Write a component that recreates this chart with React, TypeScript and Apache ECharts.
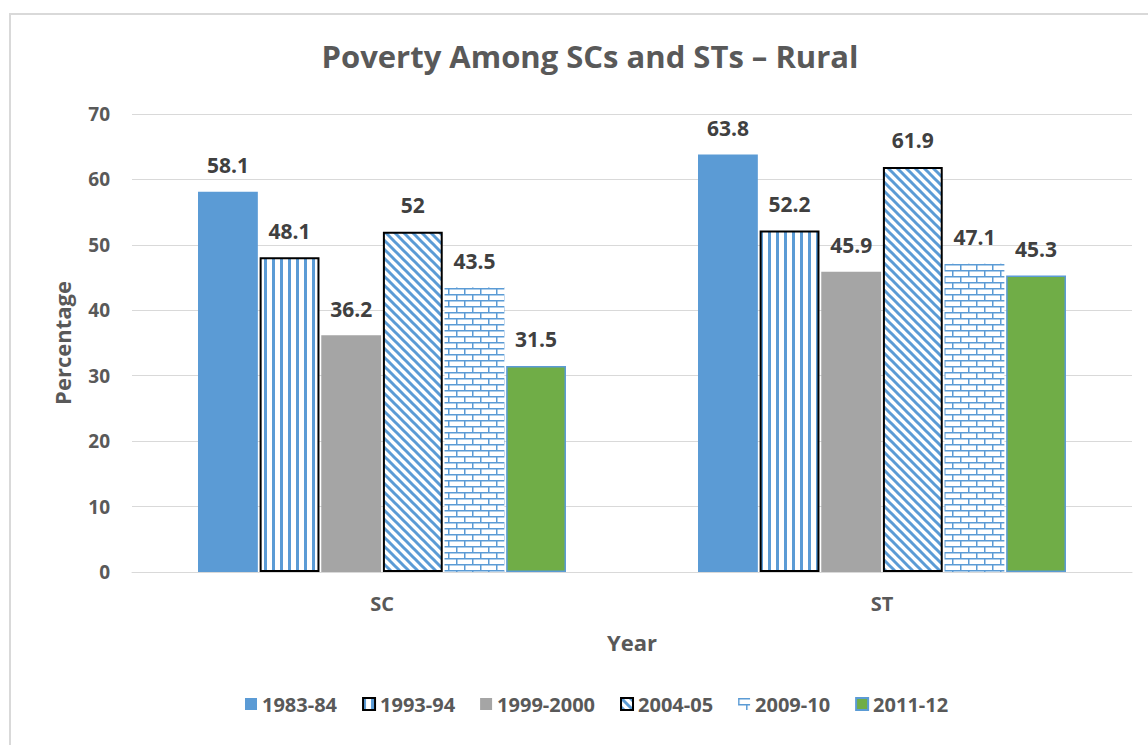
import React, { useEffect, useRef } from "react";
import * as echarts from "echarts";

const categories = ["SC", "ST"];
const seriesNames = ["1983-84", "1993-94", "1999-2000", "2004-05", "2009-10", "2011-12"];
const v1983 = [58.1, 63.8];
const v1993 = [48.1, 52.2];
const v1999 = [36.2, 45.9];
const v2004 = [52, 61.9];
const v2009 = [43.5, 47.1];
const v2011 = [31.5, 45.3];
const yTicks = { min: 0, max: 70, interval: 10 };

const BLUE = "#5B9BD5";
const FONT = "Open Sans";

function makeCanvas(w: number, h: number, draw: (c: CanvasRenderingContext2D) => void) {
  const cv = document.createElement("canvas");
  cv.width = w;
  cv.height = h;
  const ctx = cv.getContext("2d")!;
  ctx.fillStyle = "#ffffff";
  ctx.fillRect(0, 0, w, h);
  draw(ctx);
  return cv;
}

function verticalPattern() {
  return makeCanvas(8, 8, (c) => {
    c.fillStyle = BLUE;
    c.fillRect(0, 0, 3, 8);
  });
}

function diagonalPattern() {
  return makeCanvas(9, 9, (c) => {
    c.strokeStyle = BLUE;
    c.lineWidth = 3;
    for (const o of [-9, 0, 9]) {
      c.beginPath();
      c.moveTo(o - 2, -2);
      c.lineTo(o + 11, 11);
      c.stroke();
    }
  });
}

function brickPattern() {
  return makeCanvas(16, 12, (c) => {
    c.fillStyle = BLUE;
    c.fillRect(0, 0, 16, 1.5);
    c.fillRect(0, 6, 16, 1.5);
    c.fillRect(0, 0, 1.5, 6);
    c.fillRect(8, 6, 1.5, 6);
  });
}

export default function App() {
  const ref = useRef<HTMLDivElement>(null);
  useEffect(() => {
    if (!ref.current) return;
    const chart = echarts.init(ref.current, null, { renderer: "svg" });
    const label = {
      show: true,
      position: "top" as const,
      distance: 16,
      fontSize: 21,
      fontWeight: "bold" as const,
      color: "#404040",
      fontFamily: FONT,
    };
    const mk = (name: string, data: number[], itemStyle: any) => ({
      name,
      type: "bar",
      data,
      barGap: "3%",
      barCategoryGap: "26.4%",
      itemStyle,
      label,
    });
    const vp = verticalPattern();
    const dp = diagonalPattern();
    const bp = brickPattern();
    chart.setOption({
      animation: false,
      backgroundColor: "#ffffff",
      title: {
        text: "Poverty Among SCs and STs \u2013 Rural",
        left: 585,
        textAlign: "center",
        top: 35,
        textStyle: { fontFamily: FONT, fontSize: 31, fontWeight: "bold", color: "#595959" },
      },
      legend: {
        left: 240,
        top: 689,
        itemWidth: 12,
        itemHeight: 12,
        itemGap: 25,
        icon: "rect",
        textStyle: { fontFamily: FONT, fontSize: 20, fontWeight: "bold", color: "#595959", padding: [0, 0, 0, 0] },
        data: seriesNames,
      },
      grid: { left: 132, right: 16, top: 114, bottom: 173 },
      xAxis: {
        type: "category",
        data: categories,
        name: "Year",
        nameLocation: "middle",
        nameGap: 59,
        nameTextStyle: { fontFamily: FONT, fontSize: 22, fontWeight: "bold", color: "#595959" },
        axisLine: { lineStyle: { color: "#D9D9D9", width: 1 } },
        axisTick: { show: false },
        axisLabel: { margin: 21, fontFamily: FONT, fontSize: 20, fontWeight: "bold", color: "#595959" },
      },
      yAxis: {
        type: "value",
        min: yTicks.min,
        max: yTicks.max,
        interval: yTicks.interval,
        name: "Percentage",
        nameLocation: "middle",
        nameRotate: 90,
        nameGap: 59,
        nameTextStyle: { fontFamily: FONT, fontSize: 22, fontWeight: "bold", color: "#595959" },
        axisLine: { show: false },
        axisTick: { show: false },
        splitLine: { lineStyle: { color: "#D9D9D9", width: 1 } },
        axisLabel: { margin: 22, fontFamily: FONT, fontSize: 19, fontWeight: "bold", color: "#595959" },
      },
      graphic: [
        {
          type: "rect",
          shape: { x: 10, y: 14, width: 1200, height: 800 },
          style: { fill: "none", stroke: "#D9D9D9", lineWidth: 2 },
          silent: true,
        },
      ],
      series: [
        mk(seriesNames[0], v1983, { color: BLUE }),
        mk(seriesNames[1], v1993, { color: { image: vp, repeat: "repeat" }, borderColor: "#000000", borderWidth: 2 }),
        mk(seriesNames[2], v1999, { color: "#A5A5A5" }),
        mk(seriesNames[3], v2004, { color: { image: dp, repeat: "repeat" }, borderColor: "#000000", borderWidth: 2 }),
        mk(seriesNames[4], v2009, { color: { image: bp, repeat: "repeat" } }),
        mk(seriesNames[5], v2011, { color: "#70AD47", borderColor: BLUE, borderWidth: 1.5 }),
      ],
    });
    return () => chart.dispose();
  }, []);
  return (
    <div
      ref={ref}
      style={{ position: "fixed", left: 0, top: 0, width: 1148, height: 745, background: "#fff" }}
    />
  );
}
